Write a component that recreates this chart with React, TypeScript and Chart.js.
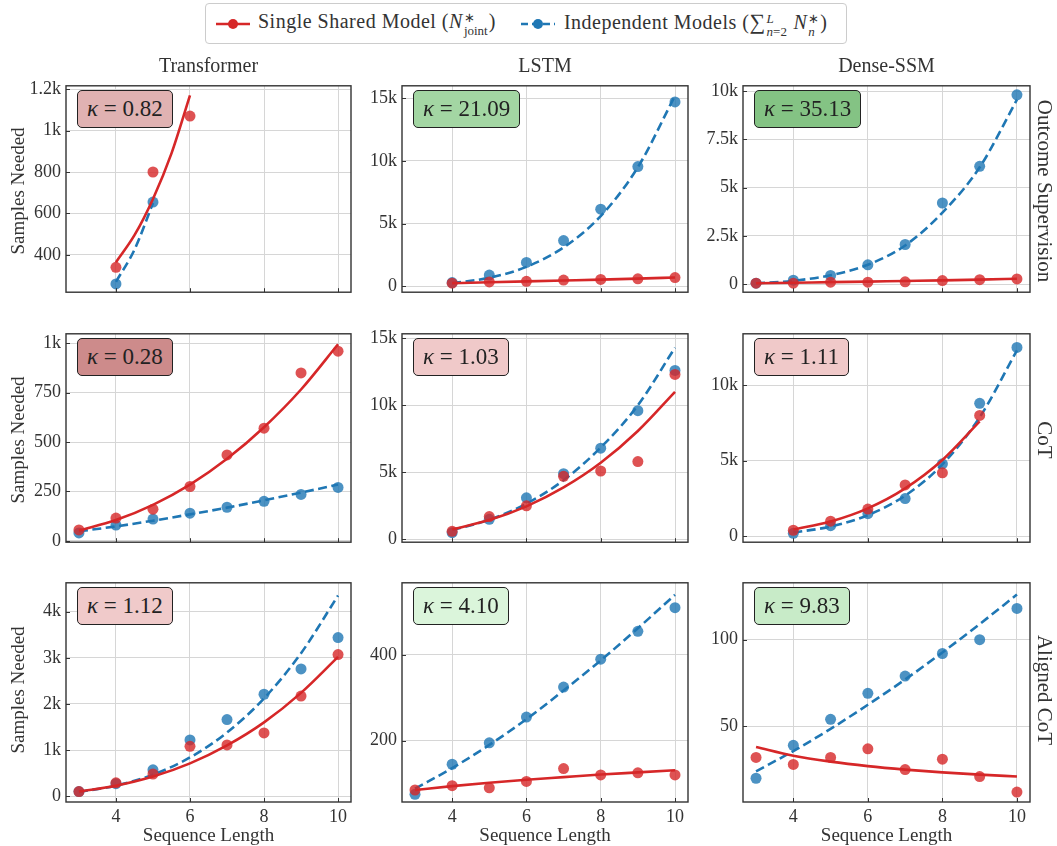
import React, { useEffect, useRef } from "react";
import { Chart, registerables } from "chart.js";
Chart.register(...registerables);

const FONT = '"Liberation Serif", "Times New Roman", serif';
const TEXT = "#333333";
const RED = "#d62728";
const BLUE = "#1f77b4";
const RED_PT = "rgba(214,39,40,0.8)";
const BLUE_PT = "rgba(31,119,180,0.8)";

const columnTitles = ["Transformer", "LSTM", "Dense-SSM"];
const rowTitles = ["Outcome Supervision", "CoT", "Aligned CoT"];
const xTicks = [4, 6, 8, 10];
const xTickLabels = ["4", "6", "8", "10"];
const legendShared = "Single Shared Model (";
const legendIndep = "Independent Models (";

const lenFrom3 = [3, 4, 5, 6, 7, 8, 9, 10];
const lenFrom4 = [4, 5, 6, 7, 8, 9, 10];

// ---------- Outcome Supervision ----------
const osTfSharedX = [4, 5, 6];
const osTfShared = [340, 800, 1070];
const osTfSharedFitX = [4, 4.5, 5, 5.5, 6];
const osTfSharedFit = [365, 495, 670, 890, 1170];
const osTfIndepX = [4, 5];
const osTfIndep = [260, 655];
const osTfIndepFitX = [4, 4.5, 5];
const osTfIndepFit = [270, 425, 650];
const osTfTicks = [400, 600, 800, 1000, 1200];
const osTfTickLabels = ["400", "600", "800", "1k", "1.2k"];

const osLstmShared = [250, 350, 400, 500, 550, 600, 700];
const osLstmSharedFit = [250, 320, 390, 460, 530, 610, 700];
const osLstmIndep = [300, 900, 1900, 3650, 6150, 9550, 14700];
const osLstmIndepFit = [250, 680, 1550, 3100, 5600, 9500, 15200];
const osLstmTicks = [0, 5000, 10000, 15000];
const osLstmTickLabels = ["0", "5k", "10k", "15k"];

const osSsmShared = [50, 50, 100, 100, 120, 180, 230, 270];
const osSsmSharedFit = [40, 70, 100, 130, 160, 190, 230, 280];
const osSsmIndep = [50, 200, 450, 1000, 2050, 4200, 6100, 9800];
const osSsmIndepFit = [40, 170, 460, 1000, 2000, 3700, 6050, 9550];
const osSsmTicks = [0, 2500, 5000, 7500, 10000];
const osSsmTickLabels = ["0", "2.5k", "5k", "7.5k", "10k"];

// ---------- CoT ----------
const cotTfShared = [55, 115, 160, 275, 435, 570, 850, 960];
const cotTfSharedFit = [52, 105, 182, 284, 415, 575, 766, 995];
const cotTfIndep = [40, 80, 110, 140, 170, 200, 235, 270];
const cotTfIndepFit = [48, 73, 102, 134, 168, 205, 244, 285];
const cotTfTicks = [0, 250, 500, 750, 1000];
const cotTfTickLabels = ["0", "250", "500", "750", "1k"];

const cotLstmShared = [600, 1700, 2500, 4700, 5100, 5800, 12300];
const cotLstmSharedFit = [750, 1440, 2460, 3870, 5710, 8080, 11000];
const cotLstmIndep = [500, 1500, 3100, 4900, 6800, 9600, 12600];
const cotLstmIndepFit = [700, 1460, 2660, 4410, 6850, 10000, 14300];
const cotLstmTicks = [0, 5000, 10000, 15000];
const cotLstmTickLabels = ["0", "5k", "10k", "15k"];

const cotSsmSharedX = [4, 5, 6, 7, 8, 9];
const cotSsmShared = [400, 1000, 1800, 3400, 4200, 8000];
const cotSsmSharedFit = [450, 980, 1850, 3170, 5050, 7600];
const cotSsmIndep = [200, 700, 1500, 2500, 4800, 8800, 12500];
const cotSsmIndepFit = [250, 645, 1400, 2690, 4760, 7880, 12300];
const cotSsmTicks = [0, 5000, 10000];
const cotSsmTickLabels = ["0", "5k", "10k"];

// ---------- Aligned CoT ----------
const alTfShared = [100, 290, 480, 1080, 1110, 1370, 2170, 3070];
const alTfSharedFit = [100, 226, 424, 710, 1100, 1600, 2240, 3020];
const alTfIndep = [100, 270, 570, 1220, 1660, 2210, 2760, 3440];
const alTfIndepFit = [90, 228, 466, 839, 1380, 2120, 3100, 4350];
const alTfTicks = [0, 1000, 2000, 3000, 4000];
const alTfTickLabels = ["0", "1k", "2k", "3k", "4k"];

const alLstmShared = [85, 95, 90, 105, 135, 120, 125, 120];
const alLstmSharedFit = [85, 94, 102, 109, 115, 121, 126, 131];
const alLstmIndep = [75, 145, 195, 255, 325, 390, 455, 510];
const alLstmIndepFit = [88, 136, 190, 250, 317, 387, 462, 540];
const alLstmTicks = [200, 400];
const alLstmTickLabels = ["200", "400"];

const alSsmShared = [32, 28, 32, 37, 25, 31, 21, 12];
const alSsmSharedFit = [38, 33, 29.6, 27, 25, 23.4, 22.1, 21];
const alSsmIndep = [20, 39, 54, 69, 79, 92, 100, 118];
const alSsmIndepFit = [24, 35.7, 48.5, 62.4, 77, 92.6, 109, 126];
const alSsmTicks = [50, 100];
const alSsmTickLabels = ["50", "100"];

const kappaLabels = ["0.82", "21.09", "35.13", "0.28", "1.03", "1.11", "1.12", "4.10", "9.83"];
const kappaColors = ["#e0b2b2", "#a3d6a3", "#84c384", "#cd8b8b", "#f0c9c9", "#f0c9c9", "#f0caca", "#dbf5db", "#c8ebc8"];
const yRanges = [
  [220, 1216], [-470, 15990], [-420, 10270],
  [-7, 1048], [-210, 15330], [-390, 13400],
  [-127, 4627], [57, 568], [6.3, 132.8],
];

// layout (pixels)
const colLeft = [66, 402, 743];
const colRight = [351, 688, 1030];
const rowTop = [80, 328, 577];
const rowBottom = [302, 552, 802];

type Spec = {
  row: number; col: number;
  yTicks: number[]; yTickLabels: string[];
  sX: number[]; s: number[]; sFX: number[]; sF: number[];
  iX: number[]; i: number[]; iFX: number[]; iF: number[];
};

const specs: Spec[] = [
  { row: 0, col: 0, yTicks: osTfTicks, yTickLabels: osTfTickLabels, sX: osTfSharedX, s: osTfShared, sFX: osTfSharedFitX, sF: osTfSharedFit, iX: osTfIndepX, i: osTfIndep, iFX: osTfIndepFitX, iF: osTfIndepFit },
  { row: 0, col: 1, yTicks: osLstmTicks, yTickLabels: osLstmTickLabels, sX: lenFrom4, s: osLstmShared, sFX: lenFrom4, sF: osLstmSharedFit, iX: lenFrom4, i: osLstmIndep, iFX: lenFrom4, iF: osLstmIndepFit },
  { row: 0, col: 2, yTicks: osSsmTicks, yTickLabels: osSsmTickLabels, sX: lenFrom3, s: osSsmShared, sFX: lenFrom3, sF: osSsmSharedFit, iX: lenFrom3, i: osSsmIndep, iFX: lenFrom3, iF: osSsmIndepFit },
  { row: 1, col: 0, yTicks: cotTfTicks, yTickLabels: cotTfTickLabels, sX: lenFrom3, s: cotTfShared, sFX: lenFrom3, sF: cotTfSharedFit, iX: lenFrom3, i: cotTfIndep, iFX: lenFrom3, iF: cotTfIndepFit },
  { row: 1, col: 1, yTicks: cotLstmTicks, yTickLabels: cotLstmTickLabels, sX: lenFrom4, s: cotLstmShared, sFX: lenFrom4, sF: cotLstmSharedFit, iX: lenFrom4, i: cotLstmIndep, iFX: lenFrom4, iF: cotLstmIndepFit },
  { row: 1, col: 2, yTicks: cotSsmTicks, yTickLabels: cotSsmTickLabels, sX: cotSsmSharedX, s: cotSsmShared, sFX: cotSsmSharedX, sF: cotSsmSharedFit, iX: lenFrom4, i: cotSsmIndep, iFX: lenFrom4, iF: cotSsmIndepFit },
  { row: 2, col: 0, yTicks: alTfTicks, yTickLabels: alTfTickLabels, sX: lenFrom3, s: alTfShared, sFX: lenFrom3, sF: alTfSharedFit, iX: lenFrom3, i: alTfIndep, iFX: lenFrom3, iF: alTfIndepFit },
  { row: 2, col: 1, yTicks: alLstmTicks, yTickLabels: alLstmTickLabels, sX: lenFrom3, s: alLstmShared, sFX: lenFrom3, sF: alLstmSharedFit, iX: lenFrom3, i: alLstmIndep, iFX: lenFrom3, iF: alLstmIndepFit },
  { row: 2, col: 2, yTicks: alSsmTicks, yTickLabels: alSsmTickLabels, sX: lenFrom3, s: alSsmShared, sFX: lenFrom3, sF: alSsmSharedFit, iX: lenFrom3, i: alSsmIndep, iFX: lenFrom3, iF: alSsmIndepFit },
];

const toPts = (xs: number[], ys: number[]) => xs.map((x, k) => ({ x, y: ys[k] }));

const LEFT_W = 60;
const TOP_P = 10;
const RIGHT_P = 10;

const framePlugin = {
  id: "frame",
  afterDraw(chart: any) {
    const { ctx, chartArea: a, scales } = chart;
    ctx.save();
    ctx.strokeStyle = "#333";
    ctx.lineWidth = 1;
    ctx.beginPath();
    for (const v of xTicks) {
      const px = Math.round(scales.x.getPixelForValue(v)) + 0.5;
      ctx.moveTo(px, a.bottom);
      ctx.lineTo(px, a.bottom - 4);
    }
    for (const t of scales.y.ticks) {
      const py = Math.round(scales.y.getPixelForValue(t.value)) + 0.5;
      ctx.moveTo(a.left, py);
      ctx.lineTo(a.left + 4, py);
    }
    ctx.stroke();
    ctx.lineWidth = 1.4;
    ctx.strokeRect(a.left, a.top, a.right - a.left, a.bottom - a.top);
    ctx.restore();
  },
};

function Panel({ spec, index }: { spec: Spec; index: number }) {
  const ref = useRef<HTMLCanvasElement>(null);
  const isBottom = spec.row === 2;
  const bottomH = isBottom ? 30 : 6;
  const pw = colRight[spec.col] - colLeft[spec.col];
  const ph = rowBottom[spec.row] - rowTop[spec.row];
  const W = LEFT_W + pw + RIGHT_P;
  const H = TOP_P + ph + bottomH;

  useEffect(() => {
    if (!ref.current) return;
    const [yMin, yMax] = yRanges[index];
    const chart = new Chart(ref.current, {
      type: "scatter",
      data: {
        datasets: [
          { data: toPts(spec.sX, spec.s), pointRadius: 5.5, pointBackgroundColor: RED_PT, pointBorderWidth: 0, showLine: false } as any,
          { data: toPts(spec.sFX, spec.sF), showLine: true, pointRadius: 0, borderColor: RED, borderWidth: 2.6, cubicInterpolationMode: "monotone", fill: false } as any,
          { data: toPts(spec.iX, spec.i), pointRadius: 5.5, pointBackgroundColor: BLUE_PT, pointBorderWidth: 0, showLine: false } as any,
          { data: toPts(spec.iFX, spec.iF), showLine: true, pointRadius: 0, borderColor: BLUE, borderWidth: 2.6, borderDash: [9, 4.5], cubicInterpolationMode: "monotone", fill: false } as any,
        ],
      },
      options: {
        animation: false,
        responsive: false,
        events: [],
        layout: { padding: { top: TOP_P, right: RIGHT_P, left: 0, bottom: 0 } },
        plugins: { legend: { display: false }, tooltip: { enabled: false } },
        scales: {
          x: {
            type: "linear",
            min: 2.65,
            max: 10.35,
            bounds: "data",
            afterBuildTicks: (s: any) => { s.ticks = xTicks.map((v) => ({ value: v })); },
            afterFit: (s: any) => { s.height = bottomH; },
            ticks: {
              display: isBottom,
              autoSkip: false,
              maxRotation: 0,
              padding: 4,
              color: TEXT,
              font: { family: FONT, size: 18 },
              callback: (_v: any, k: number) => xTickLabels[k],
            },
            grid: { color: "#d6d6d6", lineWidth: 1, drawTicks: false },
            border: { display: false },
          },
          y: {
            type: "linear",
            min: yMin,
            max: yMax,
            bounds: "data",
            afterBuildTicks: (s: any) => { s.ticks = spec.yTicks.map((v) => ({ value: v })); },
            afterFit: (s: any) => { s.width = LEFT_W; },
            ticks: {
              autoSkip: false,
              padding: 5,
              color: TEXT,
              font: { family: FONT, size: 18 },
              callback: (_v: any, k: number) => spec.yTickLabels[k],
            },
            grid: { color: "#d6d6d6", lineWidth: 1, drawTicks: false },
            border: { display: false },
          },
        },
      } as any,
      plugins: [framePlugin],
    });
    return () => chart.destroy();
  }, []);

  return (
    <canvas
      ref={ref}
      width={W}
      height={H}
      style={{ position: "absolute", left: colLeft[spec.col] - LEFT_W, top: rowTop[spec.row] - TOP_P, width: W, height: H }}
    />
  );
}

function Stack({ top, bottom, size }: { top: React.ReactNode; bottom: React.ReactNode; size: number }) {
  return (
    <span style={{ display: "inline-flex", flexDirection: "column", verticalAlign: "middle", fontSize: size, lineHeight: 1, marginLeft: 1, marginRight: 1, letterSpacing: 0 }}>
      <span style={{ height: size }}>{top}</span>
      <span>{bottom}</span>
    </span>
  );
}

function LegendMark({ color, dashed }: { color: string; dashed: boolean }) {
  return (
    <svg width={36} height={14} style={{ verticalAlign: "middle", display: "block" }}>
      <line x1={1} y1={7} x2={35} y2={7} stroke={color} strokeWidth={2.6} strokeDasharray={dashed ? "7 4" : undefined} />
      <circle cx={18} cy={7} r={5} fill={color} />
    </svg>
  );
}

export default function App() {
  return (
    <div style={{ position: "absolute", left: 0, top: 0, width: 1057, height: 846, background: "#fff", fontFamily: FONT, color: TEXT, overflow: "hidden" }}>
      {/* Legend */}
      <div style={{ position: "absolute", left: 205, top: 3, width: 640, height: 39, border: "1px solid #cccccc", borderRadius: 4, background: "#fff", display: "flex", alignItems: "center", fontSize: 20, letterSpacing: 0.5, whiteSpace: "nowrap" }}>
        <span style={{ marginLeft: 9 }}><LegendMark color={RED} dashed={false} /></span>
        <span style={{ marginLeft: 7 }}>
          {legendShared}
          <i>N</i>
          <Stack top={"∗"} bottom={"joint"} size={13} />
          )
        </span>
        <span style={{ marginLeft: 24 }}><LegendMark color={BLUE} dashed={true} /></span>
        <span style={{ marginLeft: 8 }}>
          {legendIndep}
          <span style={{ fontSize: 22 }}>∑</span>
          <Stack top={<i>L</i>} bottom={<span><i>n</i>=2</span>} size={13} />
          <i> N</i>
          <Stack top={"∗"} bottom={<i>n</i>} size={13} />
          )
        </span>
      </div>

      {specs.map((s, k) => (
        <Panel key={k} spec={s} index={k} />
      ))}

      {/* column titles */}
      {columnTitles.map((t, c) => (
        <div key={t} style={{ position: "absolute", left: colLeft[c], width: colRight[c] - colLeft[c], top: 55, textAlign: "center", fontSize: 20, lineHeight: "20px" }}>{t}</div>
      ))}

      {/* row titles on the right */}
      {rowTitles.map((t, r) => (
        <div key={t} style={{ position: "absolute", left: 1044, top: (rowTop[r] + rowBottom[r]) / 2, transform: "translate(-50%, -50%) rotate(90deg)", whiteSpace: "nowrap", fontSize: 21, lineHeight: "21px" }}>{t}</div>
      ))}

      {/* y axis labels */}
      {[0, 1, 2].map((r) => (
        <div key={r} style={{ position: "absolute", left: 17, top: (rowTop[r] + rowBottom[r]) / 2, transform: "translate(-50%, -50%) rotate(-90deg)", whiteSpace: "nowrap", fontSize: 19, lineHeight: "19px" }}>Samples Needed</div>
      ))}

      {/* x axis labels */}
      {[0, 1, 2].map((c) => (
        <div key={c} style={{ position: "absolute", left: colLeft[c], width: colRight[c] - colLeft[c], top: 825, textAlign: "center", fontSize: 19, lineHeight: "19px" }}>Sequence Length</div>
      ))}

      {/* kappa boxes */}
      {specs.map((s, k) => (
        <div key={"k" + k} style={{ position: "absolute", left: colLeft[s.col] + 11, top: rowTop[s.row] + 10, background: kappaColors[k], border: "1px solid #222", borderRadius: 5, padding: "4px 9px", fontSize: 23, lineHeight: "28px", whiteSpace: "nowrap", color: "#222" }}>
          <i>κ</i> = {kappaLabels[k]}
        </div>
      ))}
    </div>
  );
}
